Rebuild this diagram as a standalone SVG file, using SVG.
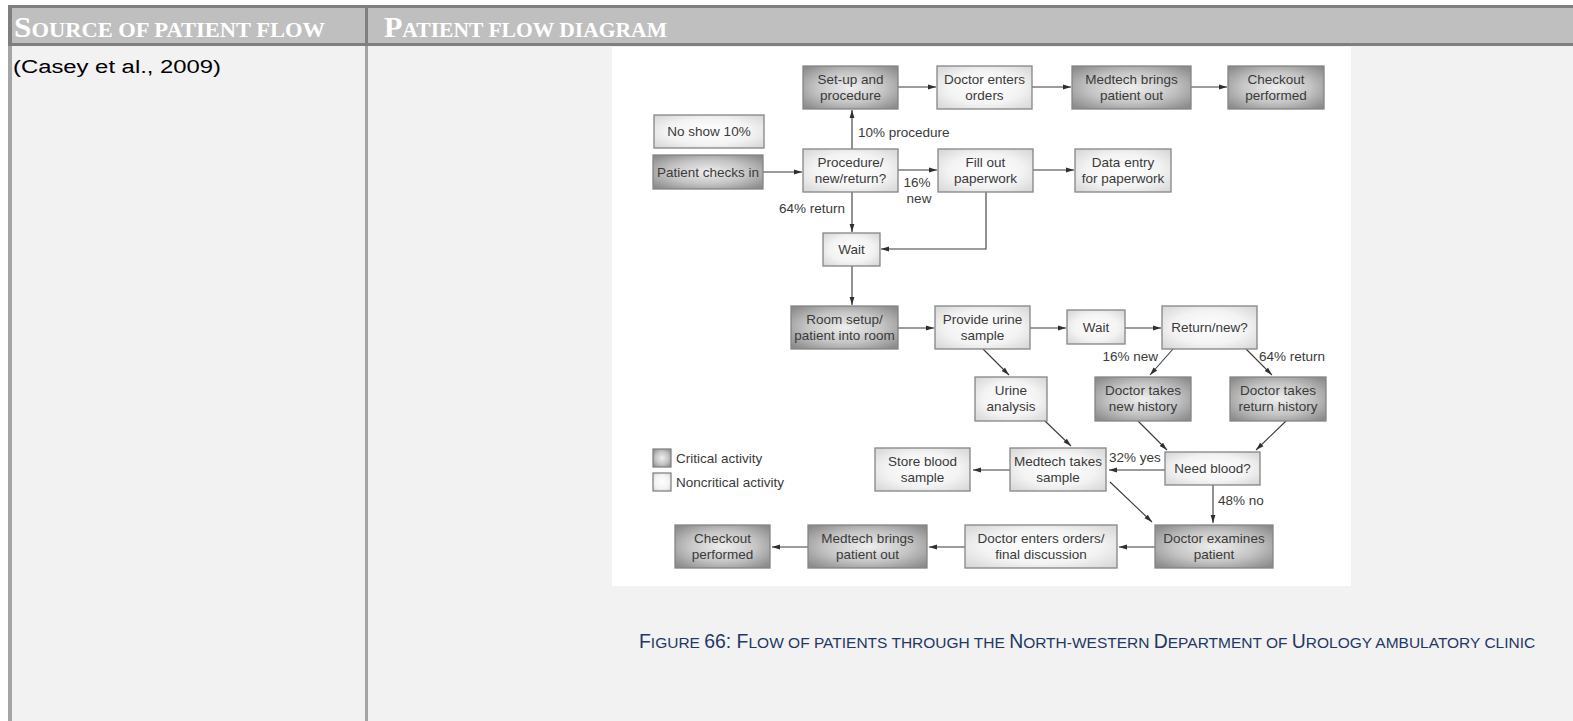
<svg xmlns="http://www.w3.org/2000/svg" width="1573" height="721" viewBox="0 0 1573 721">
  <defs>
    <radialGradient id="gLight" cx="50%" cy="50%" r="65%">
      <stop offset="0" stop-color="#ffffff"/>
      <stop offset="0.6" stop-color="#f3f3f3"/>
      <stop offset="1" stop-color="#d9d9d9"/>
    </radialGradient>
    <radialGradient id="gDark" cx="50%" cy="50%" r="65%">
      <stop offset="0" stop-color="#efefef"/>
      <stop offset="0.55" stop-color="#c4c4c4"/>
      <stop offset="1" stop-color="#8c8c8c"/>
    </radialGradient>
    <marker id="arr" markerWidth="8" markerHeight="6" refX="8" refY="3" orient="auto" markerUnits="userSpaceOnUse">
      <path d="M0,0.6 L8,3 L0,5.4 Z" fill="#2f2f2f"/>
    </marker>
    <style>
      .hdr { font-family: "Liberation Serif", serif; font-weight: bold; fill: #ffffff; }
      .cell { font-family: "Liberation Sans", Arial, sans-serif; fill: #000000; }
      .cap { font-family: "Liberation Sans", Arial, sans-serif; fill: #1f3864; }
      .box rect { stroke: #858585; stroke-width: 1.3; }
      .light rect { fill: url(#gLight); }
      .dark rect { fill: url(#gDark); }
      .box text, .lbl { font-family: "Liberation Sans", Arial, sans-serif; font-size: 13.5px; fill: #3a3a3a; text-anchor: middle; }
      .lbl { text-anchor: start; }
      .lbl.end { text-anchor: end; }
      .lbl.mid { text-anchor: middle; }
      #connectors path { fill: none; stroke: #3a3a3a; stroke-width: 1.1; marker-end: url(#arr); }
    </style>
  </defs>

  <!-- page and table -->
  <rect x="0" y="0" width="1573" height="721" fill="#ffffff"/>
  <rect x="8" y="46" width="1565" height="675" fill="#f2f2f2"/>
  <rect x="8" y="5" width="1565" height="41" fill="#bfbfbf"/>
  <rect x="8" y="5" width="1565" height="3" fill="#7f7f7f"/>
  <rect x="8" y="43" width="1565" height="3" fill="#7f7f7f"/>
  <rect x="8" y="5" width="4" height="41" fill="#7f7f7f"/>
  <rect x="365" y="5" width="3" height="41" fill="#7f7f7f"/>
  <rect x="8" y="46" width="4" height="675" fill="#a5a5a5"/>
  <rect x="365" y="46" width="3" height="675" fill="#a5a5a5"/>

  <!-- header cells (small caps) -->
  <text class="hdr" x="14" y="37" textLength="311" lengthAdjust="spacingAndGlyphs"><tspan font-size="30">S</tspan><tspan font-size="21.5">OURCE OF PATIENT FLOW</tspan></text>
  <text class="hdr" x="384" y="37" textLength="283" lengthAdjust="spacingAndGlyphs"><tspan font-size="30">P</tspan><tspan font-size="21.5">ATIENT FLOW DIAGRAM</tspan></text>

  <!-- left column reference -->
  <text class="cell" x="13" y="73" font-size="18" textLength="208" lengthAdjust="spacingAndGlyphs">(Casey et al., 2009)</text>

  <!-- figure panel -->
  <rect x="612" y="47" width="739" height="539" fill="#ffffff"/>

  <!-- legend -->
  <g id="legend">
    <g class="box dark"><rect x="653" y="449" width="18" height="18"/></g>
    <g class="box light"><rect x="653" y="473" width="18" height="18"/></g>
    <text class="lbl" x="676" y="463">Critical activity</text>
    <text class="lbl" x="676" y="487">Noncritical activity</text>
  </g>

  <!-- connectors -->
  <g id="connectors">
    <path d="M763,172 H802"/>
    <path d="M852,149 V110"/>
    <path d="M898,87 H936"/>
    <path d="M1032,87 H1071"/>
    <path d="M1191,87 H1227"/>
    <path d="M898,170 H937"/>
    <path d="M1033,170 H1074"/>
    <path d="M852,192 V232"/>
    <path d="M986,192 V249 H881"/>
    <path d="M852,266 V305"/>
    <path d="M898,328 H934"/>
    <path d="M1030,328 H1066"/>
    <path d="M1125,328 H1161"/>
    <path d="M983,349 L1009,375"/>
    <path d="M1173,349 L1150,375"/>
    <path d="M1246,349 L1272,375"/>
    <path d="M1045,421 L1071,446"/>
    <path d="M1138,421 L1167,450"/>
    <path d="M1286,421 L1256,450"/>
    <path d="M1165,470 H1109"/>
    <path d="M1010,470 H973"/>
    <path d="M1213,485 V523"/>
    <path d="M1110,482 L1152,522"/>
    <path d="M1155,547 H1119"/>
    <path d="M965,547 H929"/>
    <path d="M808,547 H772"/>
  </g>

  <!-- branch labels -->
  <g id="labels">
    <text class="lbl" x="858" y="137">10% procedure</text>
    <text class="lbl mid" x="917" y="187">16%</text>
    <text class="lbl mid" x="919" y="203">new</text>
    <text class="lbl end" x="845" y="213">64% return</text>
    <text class="lbl end" x="1158" y="361">16% new</text>
    <text class="lbl" x="1259" y="361">64% return</text>
    <text class="lbl" x="1109" y="462">32% yes</text>
    <text class="lbl" x="1218" y="505">48% no</text>
  </g>

  <!-- nodes -->
  <g id="setup" class="box dark"><rect x="803" y="66" width="95" height="43"/><text x="850.5" y="83.5">Set-up and</text><text x="850.5" y="99.5">procedure</text></g>
  <g id="doctor-orders" class="box light"><rect x="937" y="66" width="95" height="43"/><text x="984.5" y="83.5">Doctor enters</text><text x="984.5" y="99.5">orders</text></g>
  <g id="medtech-out-top" class="box dark"><rect x="1072" y="66" width="119" height="43"/><text x="1131.5" y="83.5">Medtech brings</text><text x="1131.5" y="99.5">patient out</text></g>
  <g id="checkout-top" class="box dark"><rect x="1228" y="66" width="96" height="43"/><text x="1276" y="83.5">Checkout</text><text x="1276" y="99.5">performed</text></g>
  <g id="no-show" class="box light"><rect x="654" y="115" width="110" height="33"/><text x="709" y="136">No show 10%</text></g>
  <g id="check-in" class="box dark"><rect x="653" y="155" width="110" height="34"/><text x="708" y="176.5">Patient checks in</text></g>
  <g id="triage" class="box light"><rect x="803" y="149" width="95" height="43"/><text x="850.5" y="166.5">Procedure/</text><text x="850.5" y="182.5">new/return?</text></g>
  <g id="fill-out" class="box light"><rect x="938" y="149" width="95" height="43"/><text x="985.5" y="166.5">Fill out</text><text x="985.5" y="182.5">paperwork</text></g>
  <g id="data-entry" class="box light"><rect x="1075" y="149" width="96" height="43"/><text x="1123" y="166.5">Data entry</text><text x="1123" y="182.5">for paperwork</text></g>
  <g id="wait-1" class="box light"><rect x="823" y="233" width="57" height="33"/><text x="851.5" y="254">Wait</text></g>
  <g id="room-setup" class="box dark"><rect x="791" y="306" width="107" height="43"/><text x="844.5" y="323.5">Room setup/</text><text x="844.5" y="339.5">patient into room</text></g>
  <g id="urine-sample" class="box light"><rect x="935" y="306" width="95" height="43"/><text x="982.5" y="323.5">Provide urine</text><text x="982.5" y="339.5">sample</text></g>
  <g id="wait-2" class="box light"><rect x="1067" y="310" width="58" height="34"/><text x="1096" y="331.5">Wait</text></g>
  <g id="return-new" class="box light"><rect x="1162" y="306" width="95" height="43"/><text x="1209.5" y="332">Return/new?</text></g>
  <g id="urine-analysis" class="box light"><rect x="975" y="377" width="72" height="44"/><text x="1011" y="394.5">Urine</text><text x="1011" y="410.5">analysis</text></g>
  <g id="new-history" class="box dark"><rect x="1095" y="377" width="96" height="44"/><text x="1143" y="394.5">Doctor takes</text><text x="1143" y="410.5">new history</text></g>
  <g id="return-history" class="box dark"><rect x="1230" y="377" width="96" height="44"/><text x="1278" y="394.5">Doctor takes</text><text x="1278" y="410.5">return history</text></g>
  <g id="store-blood" class="box light"><rect x="875" y="448" width="95" height="43"/><text x="922.5" y="465.5">Store blood</text><text x="922.5" y="481.5">sample</text></g>
  <g id="medtech-sample" class="box light"><rect x="1010" y="448" width="96" height="43"/><text x="1058" y="465.5">Medtech takes</text><text x="1058" y="481.5">sample</text></g>
  <g id="need-blood" class="box light"><rect x="1165" y="452" width="95" height="33"/><text x="1212.5" y="473">Need blood?</text></g>
  <g id="examine" class="box dark"><rect x="1155" y="525" width="118" height="43"/><text x="1214" y="542.5">Doctor examines</text><text x="1214" y="558.5">patient</text></g>
  <g id="final-orders" class="box light"><rect x="965" y="525" width="152" height="43"/><text x="1041" y="542.5">Doctor enters orders/</text><text x="1041" y="558.5">final discussion</text></g>
  <g id="medtech-out-bottom" class="box dark"><rect x="808" y="525" width="119" height="43"/><text x="867.5" y="542.5">Medtech brings</text><text x="867.5" y="558.5">patient out</text></g>
  <g id="checkout-bottom" class="box dark"><rect x="675" y="525" width="95" height="43"/><text x="722.5" y="542.5">Checkout</text><text x="722.5" y="558.5">performed</text></g>

  <!-- caption (small caps) -->
  <text class="cap" x="639" y="648"><tspan font-size="19.4">F</tspan><tspan font-size="15.5">IGURE </tspan><tspan font-size="19.4">66: F</tspan><tspan font-size="15.5">LOW OF PATIENTS THROUGH THE </tspan><tspan font-size="19.4">N</tspan><tspan font-size="15.5">ORTH-WESTERN </tspan><tspan font-size="19.4">D</tspan><tspan font-size="15.5">EPARTMENT OF </tspan><tspan font-size="19.4">U</tspan><tspan font-size="15.5">ROLOGY AMBULATORY CLINIC</tspan></text>
</svg>
